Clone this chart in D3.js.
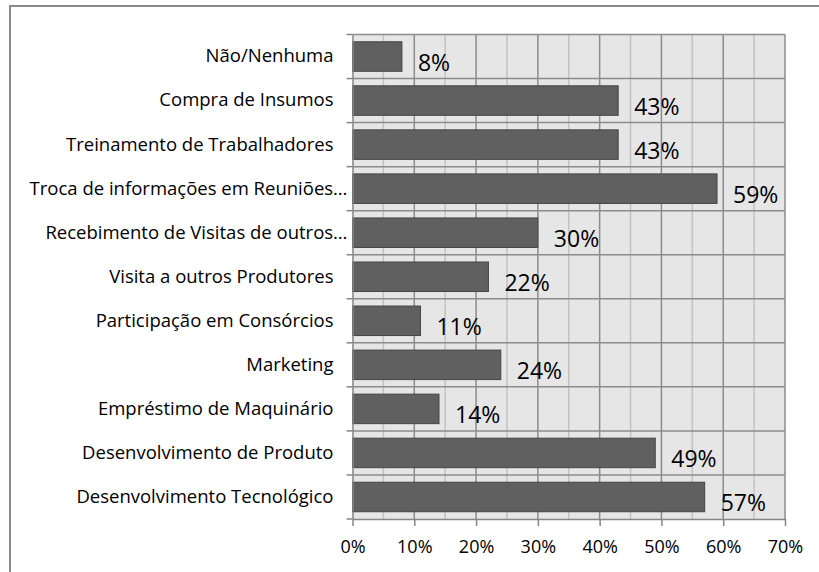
<!DOCTYPE html>
<html>
<head>
<meta charset="utf-8">
<script src="https://cdn.jsdelivr.net/npm/d3@7"></script>
<style>
  body { margin: 0; background: #fff; }
  text { font-family: "Open Sans", sans-serif; fill: #000; }
</style>
</head>
<body>
<div id="chart"></div>
<script>
// categories, top to bottom as shown
var categories = [
  "Não/Nenhuma",
  "Compra de Insumos",
  "Treinamento de Trabalhadores",
  "Troca de informações em Reuniões…",
  "Recebimento de Visitas de outros…",
  "Visita a outros Produtores",
  "Participação em Consórcios",
  "Marketing",
  "Empréstimo de Maquinário",
  "Desenvolvimento de Produto",
  "Desenvolvimento Tecnológico"
];
// share of answers, in percent
var values = [8, 43, 43, 59, 30, 22, 11, 24, 14, 49, 57];
// value axis ticks
var ticks = [0, 10, 20, 30, 40, 50, 60, 70];

var W = 819, H = 572;
var plot = {left: 352.5, right: 785, top: 34.5, bottom: 519};

var svg = d3.select("#chart")
  .append("svg")
  .attr("width", W)
  .attr("height", H);

// outer frame (bottom and right run off the page)
svg.append("rect")
  .attr("x", 10).attr("y", 6)
  .attr("width", W + 20).attr("height", H + 20)
  .attr("fill", "none")
  .attr("stroke", "#8a8a8a")
  .attr("stroke-width", 2);

var x = d3.scaleLinear()
  .domain([0, 70])
  .range([plot.left, plot.right]);

// band scale for the rows, and one for the bars inside them
var yRow = d3.scaleBand()
  .domain(categories)
  .range([plot.top, plot.bottom]);

var yBar = d3.scaleBand()
  .domain(categories)
  .range([plot.top, plot.bottom])
  .paddingInner(0.33)
  .paddingOuter(0.165);

// plot background
svg.append("rect")
  .attr("x", plot.left).attr("y", plot.top)
  .attr("width", plot.right - plot.left)
  .attr("height", plot.bottom - plot.top)
  .attr("fill", "#e6e6e6");

// minor vertical gridlines every 5%
svg.append("g")
  .selectAll("line")
  .data(d3.range(5, 70, 10))
  .enter().append("line")
    .attr("x1", function(d) { return x(d); })
    .attr("x2", function(d) { return x(d); })
    .attr("y1", plot.top).attr("y2", plot.bottom)
    .attr("stroke", "#c2c2c2")
    .attr("stroke-width", 1.5);

// major vertical gridlines
svg.append("g")
  .selectAll("line")
  .data(ticks.slice(1))
  .enter().append("line")
    .attr("x1", function(d) { return x(d); })
    .attr("x2", function(d) { return x(d); })
    .attr("y1", plot.top).attr("y2", plot.bottom)
    .attr("stroke", "#8c8c8c")
    .attr("stroke-width", 1.5);

// horizontal lines between rows
svg.append("g")
  .selectAll("line")
  .data(categories)
  .enter().append("line")
    .attr("x1", plot.left).attr("x2", plot.right)
    .attr("y1", function(d) { return yRow(d); })
    .attr("y2", function(d) { return yRow(d); })
    .attr("stroke", "#8c8c8c")
    .attr("stroke-width", 1.5);

// bars
svg.append("g")
  .selectAll("rect")
  .data(values)
  .enter().append("rect")
    .attr("x", x(0))
    .attr("y", function(d, i) { return yBar(categories[i]); })
    .attr("width", function(d) { return x(d) - x(0); })
    .attr("height", yBar.bandwidth())
    .attr("fill", "#606060")
    .attr("stroke", "#454545")
    .attr("stroke-width", 1);

// value labels
svg.append("g")
  .selectAll("text")
  .data(values)
  .enter().append("text")
    .attr("x", function(d) { return x(d) + 16; })
    .attr("y", function(d, i) { return yRow(categories[i]) + yRow.bandwidth() / 2 + 14; })
    .style("font-size", "23px")
    .text(function(d) { return d + "%"; });

// category axis
var yAxis = svg.append("g")
  .attr("transform", "translate(" + plot.left + ",0)")
  .call(d3.axisLeft(yRow).tickSize(0).tickPadding(19));
yAxis.select(".domain").attr("stroke", "#868686").attr("stroke-width", 1.5);
yAxis.selectAll("text")
  .style("font-size", "18.5px")
  .attr("x", function(d) { return d.slice(-1) == "…" ? -5 : -19; });

// category tick marks on the row boundaries
svg.append("g")
  .selectAll("line")
  .data(categories.concat(["end"]))
  .enter().append("line")
    .attr("x1", plot.left - 6).attr("x2", plot.left)
    .attr("y1", function(d) { return d == "end" ? plot.bottom : yRow(d); })
    .attr("y2", function(d) { return d == "end" ? plot.bottom : yRow(d); })
    .attr("stroke", "#868686")
    .attr("stroke-width", 1.5);

// value axis
var xAxis = svg.append("g")
  .attr("transform", "translate(0," + plot.bottom + ")")
  .call(d3.axisBottom(x)
    .tickValues(ticks)
    .tickSize(7)
    .tickSizeOuter(0)
    .tickPadding(14)
    .tickFormat(function(d) { return d + "%"; }));
xAxis.select(".domain").attr("stroke", "#868686").attr("stroke-width", 1.5);
xAxis.selectAll(".tick line").attr("stroke", "#868686").attr("stroke-width", 1.5);
xAxis.selectAll("text").style("font-size", "18px");
</script>
</body>
</html>
